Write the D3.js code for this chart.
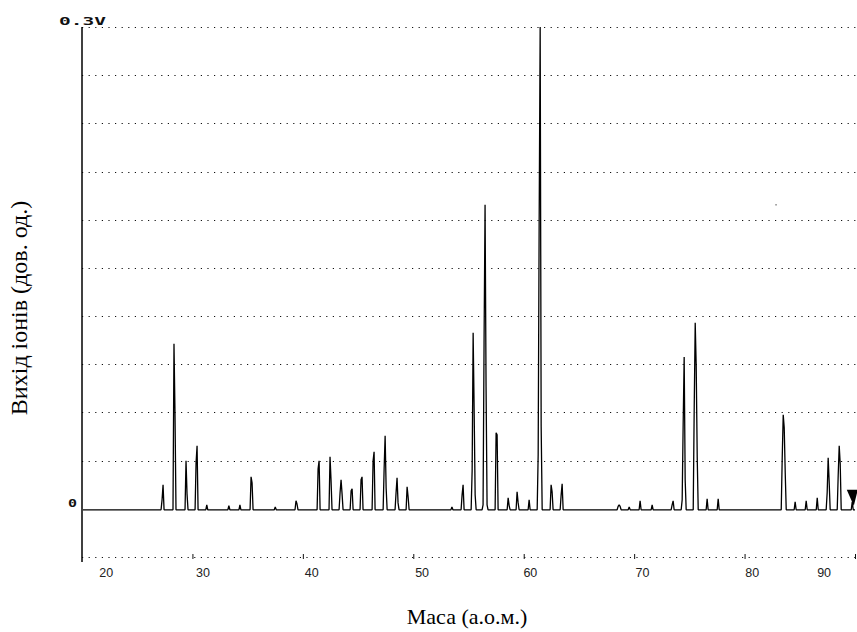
<!DOCTYPE html>
<html>
<head>
<meta charset="utf-8">
<script src="https://cdn.jsdelivr.net/npm/d3@7"></script>
<style>
  html, body { margin: 0; padding: 0; background: #fff; }
  svg { display: block; }
</style>
</head>
<body>
<svg id="chart" width="857" height="632"></svg>
<script>
// ---------------- DATA ----------------
const xTickValues = [30, 40, 50, 60, 70, 80, 90];
const xTickLabels = ["20", "30", "40", "50", "60", "70", "80", "90"];
const xLabelMass  = [22.2, 30.95, 40.8, 50.8, 60.6, 70.75, 80.7, 87.2];
const gridValues = [-0.03, 0.03, 0.06, 0.09, 0.12, 0.15, 0.18, 0.21, 0.24, 0.27, 0.30];
const yLabels = [{v: 0.30, t: "0.3V"}, {v: 0, t: "0"}];
const baseLevel = -0.0006;

const peakMass = [27.34, 28.33, 29.42, 30.42, 31.3, 33.3, 34.3, 35.31, 37.5, 39.38,
                  41.47, 42.46, 43.46, 44.46, 45.36, 46.45, 47.45, 48.53, 49.44, 53.5,
                  54.51, 55.42, 56.50, 57.50, 58.59, 59.40, 60.49, 61.49, 62.48, 63.48,
                  68.64, 69.55, 70.54, 71.63, 73.53, 74.53, 75.53, 76.61, 77.61, 83.50,
                  84.58, 85.58, 86.58, 87.57, 88.57, 89.75];
const peakPre2 = [0, 0, 0, 0, 0, 0, 0, 0, 0, 0,
                  0, 0, 0, 0, 0, 0, 0, 0, 0, 0,
                  0, 0, 0.0025, 0, 0, 0, 0, 0.0336, 0, 0,
                  0, 0, 0, 0, 0, 0.0056, 0, 0, 0, 0,
                  0, 0, 0, 0, 0, 0];
const peakPre = [0.0056, 0, 0, 0.0286, 0, 0, 0, 0, 0, 0,
                 0.0249, 0, 0.0100, 0.0112, 0.0181, 0.0299, 0.0249, 0.0100, 0, 0,
                 0.0087, 0.0237, 0.1034, 0, 0, 0, 0, 0.1800, 0, 0.0087,
                 0.0015, 0, 0, 0, 0.0025, 0.0529, 0.0629, 0, 0, 0.0318,
                 0, 0, 0, 0.0100, 0.0212, 0];
const peakTop = [0.0149, 0.1027, 0.0299, 0.0392, 0.0025, 0.0019, 0.0025, 0.0199, 0.0012, 0.0050,
                 0.0299, 0.0324, 0.0181, 0.0125, 0.0199, 0.0355, 0.0455, 0.0193, 0.0137, 0.0012,
                 0.0149, 0.1096, 0.1893, 0.0473, 0.0068, 0.0106, 0.0056, 0.3000, 0.0149, 0.0156,
                 0.0025, 0.0012, 0.0050, 0.0025, 0.0050, 0.0946, 0.1158, 0.0062, 0.0062, 0.0585,
                 0.0044, 0.0050, 0.0068, 0.0318, 0.0392, 0.0044];
const peakShoulder = [0, 0.0598, 0.0093, 0, 0, 0, 0, 0.0162, 0, 0.0030,
                      0, 0.0181, 0.0093, 0, 0, 0, 0.0131, 0.0037, 0.0075, 0,
                      0, 0.0616, 0.0760, 0.0461, 0.0020, 0.0040, 0, 0.0511, 0.0106, 0,
                      0.0015, 0, 0, 0, 0, 0.0181, 0.0884, 0, 0, 0.0504,
                      0, 0, 0, 0.0168, 0.0280, 0];
const peakTail = [0, 0, 0, 0, 0, 0, 0, 0, 0, 0,
                  0, 0, 0, 0, 0, 0, 0, 0, 0, 0,
                  0, 0.0087, 0.0025, 0, 0, 0, 0, 0, 0, 0,
                  0, 0, 0, 0, 0, 0, 0.0324, 0, 0, 0.0224,
                  0, 0, 0, 0, 0, 0];
const cursorMass = 89.8;
const strayDot = {m: 82.85, v: 0.1893};

// ---------------- CHART ----------------
const svg = d3.select("#chart");
const x = d3.scaleLinear().domain([20, 90]).range([82, 855]);
const y = d3.scaleLinear().domain([-0.03, 0.30]).range([557, 27]);
const px = (x.domain()[1] - x.domain()[0]) / (x.range()[1] - x.range()[0]); // one pixel in mass units

// dotted grid
svg.append("g").selectAll("line").data(gridValues).join("line")
  .attr("x1", x(20)).attr("x2", 857)
  .attr("y1", d => Math.round(y(d)) + 0.5).attr("y2", d => Math.round(y(d)) + 0.5)
  .attr("stroke", "#111").attr("stroke-width", 1)
  .attr("stroke-dasharray", "1.2,5.4");

// bottom tick marks
const xAxis = d3.axisBottom(x).tickValues(xTickValues).tickSizeInner(-5).tickSizeOuter(0).tickFormat("");
const gx = svg.append("g").attr("transform", `translate(0,${Math.round(y(-0.03)) + 2})`).call(xAxis);
gx.select(".domain").remove();
gx.selectAll(".tick line").attr("stroke", "#111").attr("stroke-width", 1);

// x tick labels
svg.append("g").selectAll("text").data(xTickLabels).join("text")
  .attr("x", (d, i) => x(xLabelMass[i]))
  .attr("y", 577)
  .attr("text-anchor", "middle")
  .attr("font-family", "Liberation Sans, Arial, sans-serif")
  .attr("font-size", 12.5)
  .attr("fill", "#222")
  .text(d => d);

// left axis line
svg.append("line")
  .attr("x1", x(20)).attr("x2", x(20))
  .attr("y1", y(0.30)).attr("y2", y(-0.03) + 5)
  .attr("stroke", "#000").attr("stroke-width", 1.5);

// y labels
svg.append("text")
  .attr("x", x(20) - 23).attr("y", y(yLabels[0].v) - 2)
  .attr("font-family", "DejaVu Sans Mono, monospace").attr("font-weight", "bold")
  .attr("font-size", 11).attr("textLength", 47).attr("lengthAdjust", "spacingAndGlyphs")
  .attr("fill", "#111")
  .text(yLabels[0].t);
svg.append("text")
  .attr("x", x(20) - 14).attr("y", y(yLabels[1].v) - 2)
  .attr("font-family", "DejaVu Sans Mono, monospace").attr("font-weight", "bold")
  .attr("font-size", 11).attr("textLength", 9).attr("lengthAdjust", "spacingAndGlyphs")
  .attr("fill", "#111")
  .text(yLabels[1].t);

// spectrum trace: each peak is a run of 1-pixel samples around its top
const pts = [[x.domain()[0] + px, baseLevel]];
peakMass.forEach((m, i) => {
  const lead = [peakPre2[i], peakPre[i]].filter(v => v > 0);
  const trail = [peakShoulder[i], peakTail[i]].filter(v => v > 0);
  const start = m - (lead.length + 1) * px;
  pts.push([start, baseLevel]);
  lead.forEach((v, k) => pts.push([start + (k + 1) * px, v]));
  pts.push([m, peakTop[i]]);
  trail.forEach((v, k) => pts.push([m + (k + 1) * px, v]));
  pts.push([m + (trail.length + 1) * px, baseLevel]);
});
pts.push([x.domain()[1], baseLevel]);

const line = d3.line().x(d => x(d[0])).y(d => y(d[1]));
svg.append("path")
  .datum(pts)
  .attr("d", line)
  .attr("fill", "none")
  .attr("stroke", "#000")
  .attr("stroke-width", 1.3)
  .attr("stroke-linejoin", "bevel");

// cursor marker
const cx = x(cursorMass), cy = y(0);
svg.append("path")
  .attr("d", `M${cx - 6},${cy - 19} L${cx + 5},${cy - 19} L${cx + 1},${cy - 3} Z`)
  .attr("fill", "#000");

// stray dot
svg.append("rect")
  .attr("x", x(strayDot.m) - 0.75).attr("y", y(strayDot.v) - 0.75)
  .attr("width", 1.5).attr("height", 1.5).attr("fill", "#888");

// axis titles
svg.append("text")
  .attr("transform", "translate(27,308) rotate(-90)")
  .attr("text-anchor", "middle")
  .attr("font-family", "Liberation Serif, Times New Roman, serif")
  .attr("font-size", 24)
  .attr("fill", "#000")
  .text("Вихід іонів (дов. од.)");
svg.append("text")
  .attr("x", 467).attr("y", 624)
  .attr("text-anchor", "middle")
  .attr("font-family", "Liberation Serif, Times New Roman, serif")
  .attr("font-size", 22)
  .attr("fill", "#000")
  .text("Маса (а.о.м.)");
</script>
</body>
</html>
